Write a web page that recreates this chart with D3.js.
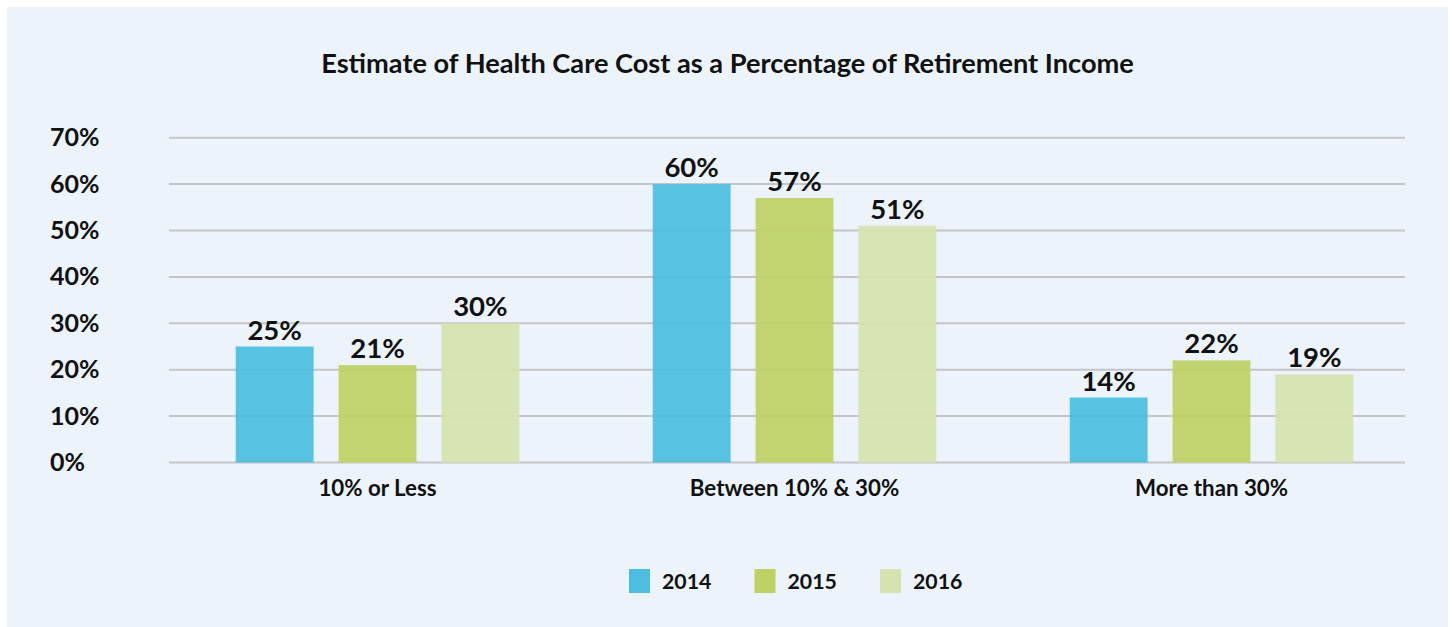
<!DOCTYPE html>
<html>
<head>
<meta charset="utf-8">
<script src="https://cdn.jsdelivr.net/npm/d3@7"></script>
<style>
  html, body { margin: 0; padding: 0; background: #ffffff; }
  svg { display: block; }
  text { font-family: Lato, "Open Sans", sans-serif; font-weight: 700; fill: #111; }
</style>
</head>
<body>
<svg id="chart" width="1452" height="627"></svg>
<script>
const title = "Estimate of Health Care Cost as a Percentage of Retirement Income";
const categories = ["10% or Less", "Between 10% & 30%", "More than 30%"];
const seriesNames = ["2014", "2015", "2016"];
const values2014 = [25, 60, 14];
const values2015 = [21, 57, 22];
const values2016 = [30, 51, 19];
const yTicks = [0, 10, 20, 30, 40, 50, 60, 70];
const colors = ["#4bbde0", "#bed164", "#d5e3ae"];

const seriesValues = [values2014, values2015, values2016];

const svg = d3.select("#chart");

// panel background
svg.append("rect").attr("x", 7).attr("y", 7).attr("width", 1441).attr("height", 620)
  .attr("fill", "#ecf3fa");

const y = d3.scaleLinear().domain([0, 70]).range([462.5, 137.7]);
const x0 = d3.scaleBand().domain(categories).range([169, 1420]).paddingInner(0.32).paddingOuter(0.16);
const x1 = d3.scaleBand().domain(seriesNames).range([0, x0.bandwidth()]).paddingInner(0.243).paddingOuter(0);

// gridlines
svg.append("g").selectAll("line").data(yTicks).join("line")
  .attr("x1", 169).attr("x2", 1405)
  .attr("y1", d => y(d)).attr("y2", d => y(d))
  .attr("stroke", "#c3c5c8").attr("stroke-width", 2);

// y tick labels
svg.append("g").selectAll("text").data(yTicks).join("text")
  .attr("x", 50).attr("y", d => y(d) + 8.5)
  .attr("font-size", 25)
  .text(d => d + "%");

// bars
const groups = svg.append("g").selectAll("g").data(categories).join("g")
  .attr("transform", c => `translate(${x0(c)},0)`);

groups.selectAll("rect").data((c, i) => seriesNames.map((s, j) => ({s, v: seriesValues[j][i], j})))
  .join("rect")
  .attr("x", d => x1(d.s)).attr("width", x1.bandwidth())
  .attr("y", d => y(d.v)).attr("height", d => y(0) - y(d.v))
  .attr("fill", d => colors[d.j]).attr("fill-opacity", 0.93);

groups.selectAll("text.val").data((c, i) => seriesNames.map((s, j) => ({s, v: seriesValues[j][i], j})))
  .join("text").attr("class", "val")
  .attr("x", d => x1(d.s) + x1.bandwidth() / 2)
  .attr("y", d => y(d.v) - 7)
  .attr("text-anchor", "middle").attr("font-size", 27.5)
  .text(d => d.v + "%");

// x labels
svg.append("g").selectAll("text").data(categories).join("text")
  .attr("x", c => x0(c) + x0.bandwidth() / 2).attr("y", 496)
  .attr("text-anchor", "middle").attr("font-size", 22.3)
  .text(c => c);

// title
svg.append("text").attr("x", 727.5).attr("y", 73).attr("text-anchor", "middle")
  .attr("font-size", 27.2).text(title);

// legend
const legendX = d3.scalePoint().domain(seriesNames).range([629, 880]);
const lg = svg.append("g").selectAll("g").data(seriesNames).join("g")
  .attr("transform", s => `translate(${legendX(s)},569)`);
lg.append("rect").attr("width", 21).attr("height", 24).attr("fill", (s, i) => colors[i]);
lg.append("text").attr("x", 33).attr("y", 20).attr("font-size", 21.3).text(s => s);
</script>
</body>
</html>
